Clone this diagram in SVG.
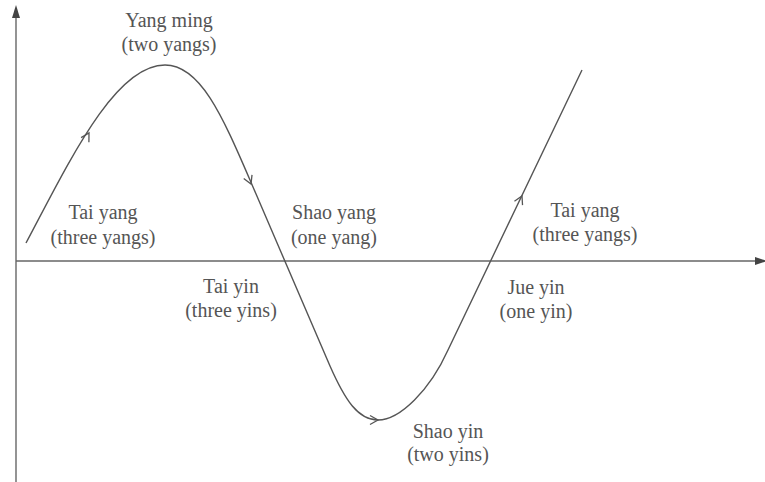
<svg xmlns="http://www.w3.org/2000/svg" width="765" height="482" viewBox="0 0 765 482">
  <style>
    .lbl { font-family: "Liberation Serif", "Times New Roman", serif; font-size: 20px; fill: #555; text-anchor: middle; }
    .ax { stroke: #666; stroke-width: 1.4; fill: none; }
    .curve { stroke: #555; stroke-width: 1.4; fill: none; }
    .chev { stroke: #555; stroke-width: 1.3; fill: none; }
    .head { fill: #444; }
  </style>
  <defs>
    <path id="chev" class="chev" d="M-8,-4.5 L0,0 L-8,4.5"/>
  </defs>
  <rect width="765" height="482" fill="#fff"/>
  <g id="connectors">
    <line class="ax" x1="16" y1="482" x2="16" y2="14"/>
    <polygon class="head" points="16,5 12,18 20,18"/>
    <line class="ax" x1="16" y1="261" x2="758" y2="261"/>
    <polygon class="head" points="767,261 755,257 755,265"/>
    <path class="curve" d="M26,243 C70,160 115,65 165,65 C200,65 222,115 250,180 L330,366 C345,400 358,420 378,420 C400,420 430,390 448,350 L582,70"/>
    <use href="#chev" transform="translate(89,133) rotate(-60)"/>
    <use href="#chev" transform="translate(251,184) rotate(67)"/>
    <use href="#chev" transform="translate(378,420) rotate(0)"/>
    <use href="#chev" transform="translate(522,196) rotate(-64)"/>
  </g>
  <g id="yang-ming"><text class="lbl" x="169" y="27">Yang ming</text><text class="lbl" x="169" y="51">(two yangs)</text></g>
  <g id="tai-yang-1"><text class="lbl" x="103" y="219">Tai yang</text><text class="lbl" x="103" y="244">(three yangs)</text></g>
  <g id="shao-yang"><text class="lbl" x="334" y="219">Shao yang</text><text class="lbl" x="334" y="244">(one yang)</text></g>
  <g id="tai-yin"><text class="lbl" x="231" y="293">Tai yin</text><text class="lbl" x="231" y="317">(three yins)</text></g>
  <g id="shao-yin"><text class="lbl" x="448" y="438">Shao yin</text><text class="lbl" x="448" y="461">(two yins)</text></g>
  <g id="jue-yin"><text class="lbl" x="536" y="294">Jue yin</text><text class="lbl" x="536" y="318">(one yin)</text></g>
  <g id="tai-yang-2"><text class="lbl" x="585" y="217">Tai yang</text><text class="lbl" x="585" y="241">(three yangs)</text></g>
</svg>
